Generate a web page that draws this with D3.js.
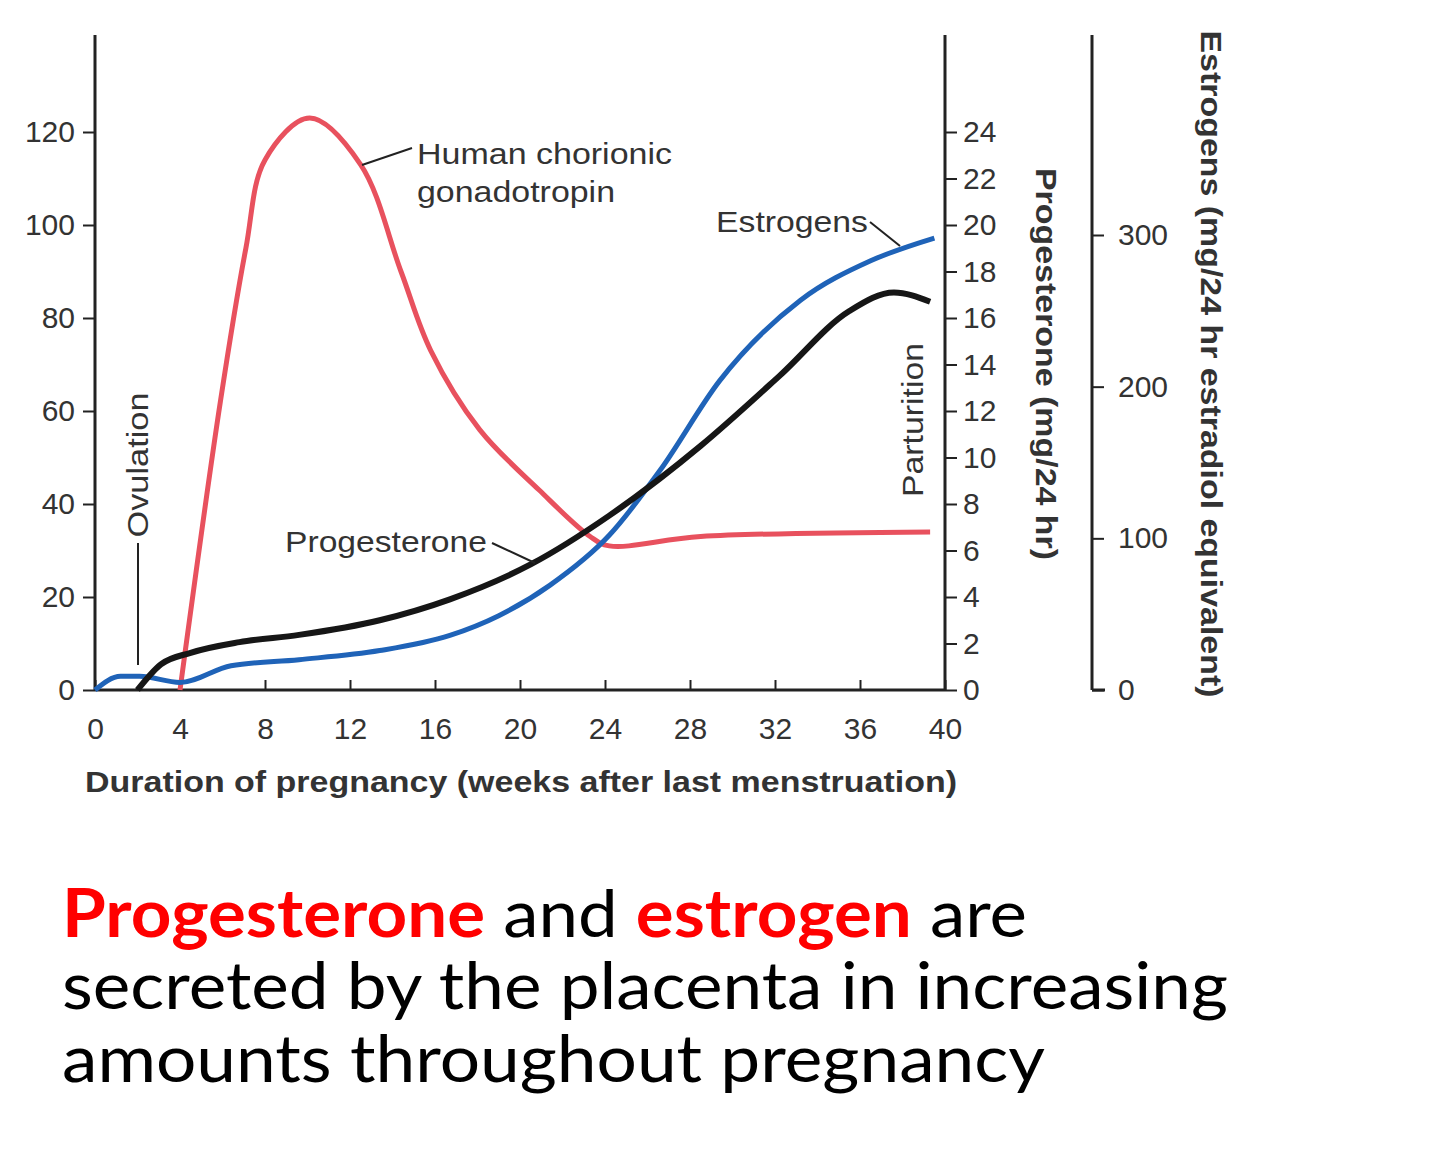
<!DOCTYPE html>
<html><head><meta charset="utf-8">
<script src="https://cdn.jsdelivr.net/npm/d3@7"></script>
<style>body{margin:0;background:#fff}</style>
</head><body><svg id="c" width="1440" height="1175"></svg>
<script>
const weekTicks=[0,4,8,12,16,20,24,28,32,36,40];
const leftTicks=[0,20,40,60,80,100,120];
const progTicks=[0,2,4,6,8,10,12,14,16,18,20,22,24];
const estTicks=[0,100,200,300];
const hcgWeeks=[4,5.9,7.1,8,10.1,12.5,14.4,15.8,18.1,20.9,23.3,24.2,28.5,39.3];
const hcgVals=[0,62,95,114,123,113,90,73,56,43,33,31,33,34];
const estWeeks=[0,1.2,2.1,4,6.4,9.6,13.4,16.7,19,21.4,24.2,26.6,29.4,33.2,36.5,39.5];
const estVals=[0,9,9,5,16,20,26,36,49,69,102,145,204,257,283,298];
const progWeeks=[2,3.1,4.5,6.8,9.6,13.4,16.7,20.5,24.2,28.5,32.2,35.5,37.6,39.3];
const progVals=[0,1.1,1.6,2.06,2.37,3.0,3.9,5.4,7.5,10.5,13.5,16.3,17.1,16.7];

const svg=d3.select("#c");
const F="Liberation Sans, Arial, sans-serif", col="#333";
const x=d3.scaleLinear().domain([0,40]).range([95,945]);
const yL=d3.scaleLinear().domain([0,120]).range([690,132]);
const yP=d3.scaleLinear().domain([0,24]).range([690,132]);
const yE=d3.scaleLinear().domain([0,300]).range([690,235]);

function style(g){g.selectAll("path.domain").remove();g.selectAll("line").attr("stroke","#222").attr("stroke-width",2);
 g.selectAll("text").attr("font-family",F).attr("font-size",30).attr("fill",col).attr("transform","scale(1.08,1)");}
function styleNoScale(g){style(g);g.selectAll("text").attr("transform",null);}
[[95],[945],[1092]].forEach(([xx])=>svg.append("line").attr("x1",xx).attr("x2",xx).attr("y1",35).attr("y2",690).attr("stroke","#222").attr("stroke-width",3));
svg.append("line").attr("x1",95).attr("x2",945).attr("y1",690).attr("y2",690).attr("stroke","#222").attr("stroke-width",3);
svg.append("line").attr("x1",1092).attr("x2",1105).attr("y1",690).attr("y2",690).attr("stroke","#222").attr("stroke-width",3);

const ticks=g=>{g.selectAll("path.domain").remove();g.selectAll("line").attr("stroke","#222").attr("stroke-width",2);
 g.selectAll("text").attr("font-family",F).attr("font-size",30).attr("fill",col);};
svg.append("g").attr("transform","translate(95,0)").call(d3.axisLeft(yL).tickValues(leftTicks).tickSize(12).tickPadding(8)).call(ticks);
svg.append("g").attr("transform","translate(945,0)").call(d3.axisRight(yP).tickValues(progTicks).tickSize(12).tickPadding(6)).call(ticks);
svg.append("g").attr("transform","translate(1092,0)").call(d3.axisRight(yE).tickValues(estTicks).tickSize(12).tickPadding(14)).call(ticks);
const gx=svg.append("g").attr("transform","translate(0,690)").call(d3.axisBottom(x).tickValues(weekTicks).tickSize(10).tickPadding(18)).call(ticks);
gx.selectAll("line").attr("transform","translate(0,-10)");

function T(t,xx,yy,len,opts={}){const e=svg.append("text").attr("font-family",F).attr("font-size",opts.size||30).attr("fill",col)
 .attr("textLength",len).attr("lengthAdjust","spacingAndGlyphs").text(t);
 if(opts.bold)e.attr("font-weight","bold");
 if(opts.rot!==undefined){e.attr("text-anchor","middle").attr("transform",`translate(${xx},${yy}) rotate(${opts.rot})`);}
 else e.attr("x",xx).attr("y",yy);return e;}
T("Duration of pregnancy (weeks after last menstruation)",85,792,872,{bold:1,size:29});
T("Progesterone (mg/24 hr)",1036,364,392,{bold:1,rot:90});
T("Estrogens (mg/24 hr estradiol equivalent)",1201,364,667,{bold:1,rot:90});

const line=(xs,vs,ys)=>d3.line().curve(d3.curveMonotoneX).x((d,i)=>x(xs[i])).y((d,i)=>ys(vs[i]))(vs);
const lineC=(xs,vs,ys)=>d3.line().curve(d3.curveCatmullRom.alpha(0.5)).x((d,i)=>x(xs[i])).y((d,i)=>ys(vs[i]))(vs);
svg.append("path").attr("d",lineC(hcgWeeks,hcgVals,yL)).attr("fill","none").attr("stroke","#e8515e").attr("stroke-width",5);
svg.append("path").attr("d",line(estWeeks,estVals,yE)).attr("fill","none").attr("stroke","#1f63b8").attr("stroke-width",5);
svg.append("path").attr("d",line(progWeeks,progVals,yP)).attr("fill","none").attr("stroke","#161616").attr("stroke-width",6);

T("Human chorionic",417,164,255);T("gonadotropin",417,202,198);
svg.append("line").attr("x1",362).attr("y1",165).attr("x2",412).attr("y2",148).attr("stroke","#222").attr("stroke-width",2);
T("Estrogens",716,232,152);
svg.append("line").attr("x1",870).attr("y1",222).attr("x2",900).attr("y2",246).attr("stroke","#222").attr("stroke-width",2);
T("Progesterone",285,552,202);
svg.append("line").attr("x1",492).attr("y1",543).attr("x2",535).attr("y2",563).attr("stroke","#222").attr("stroke-width",2);
T("Ovulation",148,465,145,{rot:-90});
svg.append("line").attr("x1",138).attr("x2",138).attr("y1",543).attr("y2",665).attr("stroke","#222").attr("stroke-width",2);
T("Parturition",923,420,154,{rot:-90});

const cap=svg.append("g").attr("font-family","Lato, Open Sans, sans-serif").attr("font-size",66).attr("fill","#000");
const t1=cap.append("text").attr("x",62).attr("y",937).attr("textLength",965).attr("lengthAdjust","spacingAndGlyphs");
t1.append("tspan").attr("fill","#ff0000").attr("font-weight","bold").text("Progesterone");
t1.append("tspan").text(" and ");
t1.append("tspan").attr("fill","#ff0000").attr("font-weight","bold").text("estrogen");
t1.append("tspan").text(" are");
cap.append("text").attr("x",62).attr("y",1009).attr("textLength",1166).attr("lengthAdjust","spacingAndGlyphs").text("secreted by the placenta in increasing");
cap.append("text").attr("x",62).attr("y",1082).attr("textLength",983).attr("lengthAdjust","spacingAndGlyphs").text("amounts throughout pregnancy");
</script></body></html>
